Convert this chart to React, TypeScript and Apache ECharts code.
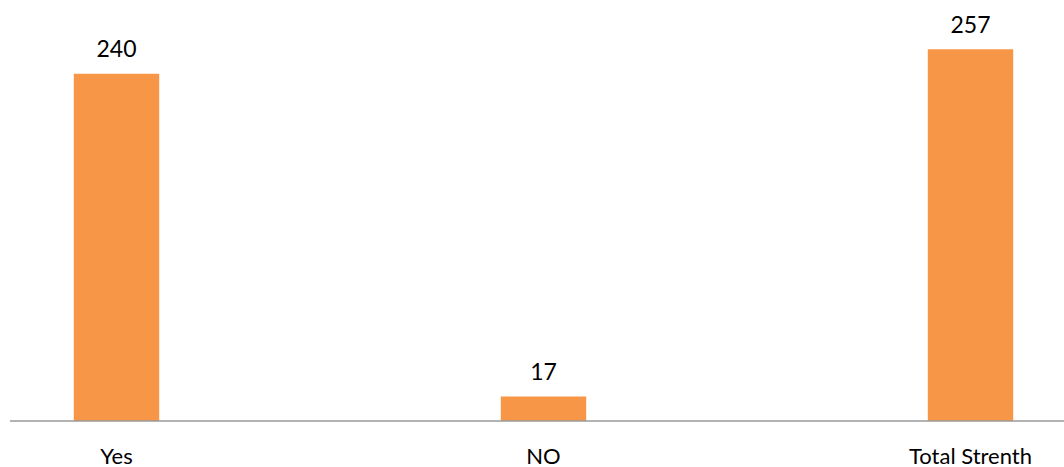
import React, { useEffect, useRef } from "react";
import * as echarts from "echarts";

const categories = ["Yes", "NO", "Total Strenth"];
const values = [240, 17, 257];

const OFFSET = 97;

export default function App() {
  const ref = useRef<HTMLDivElement>(null);
  useEffect(() => {
    if (!ref.current) return;
    const chart = echarts.init(ref.current, undefined, { renderer: "svg" });
    const font = "Lato, 'Open Sans', sans-serif";
    chart.setOption({
      animation: false,
      grid: { left: 0, right: 0, top: 16, bottom: 46, containLabel: false },
      xAxis: {
        type: "category",
        data: categories,
        axisLine: { show: false },
        axisTick: { show: false },
        axisLabel: { color: "#000", fontSize: 22, lineHeight: 18, fontFamily: font, margin: 25 },
      },
      yAxis: { type: "value", min: 0, max: 280, show: false, splitLine: { show: false } },
      series: [
        {
          type: "bar",
          data: values,
          barWidth: "20%",
          itemStyle: { color: "#F79646" },
          label: { show: true, position: "top", distance: 14, color: "#000", fontSize: 23, fontFamily: font },
        },
      ],
      graphic: [
        {
          type: "line",
          shape: { x1: 10 + OFFSET, y1: 421, x2: 1064 + OFFSET, y2: 421 },
          style: { stroke: "#9a9a9a", lineWidth: 1.5 },
          z: 10,
        },
      ],
    });
    return () => chart.dispose();
  }, []);
  return (
    <div style={{ position: "absolute", left: 0, top: 0, width: 1064, height: 467, overflow: "hidden" }}>
      <div ref={ref} style={{ position: "absolute", left: -OFFSET, top: 0, width: 1281, height: 467 }} />
    </div>
  );
}
